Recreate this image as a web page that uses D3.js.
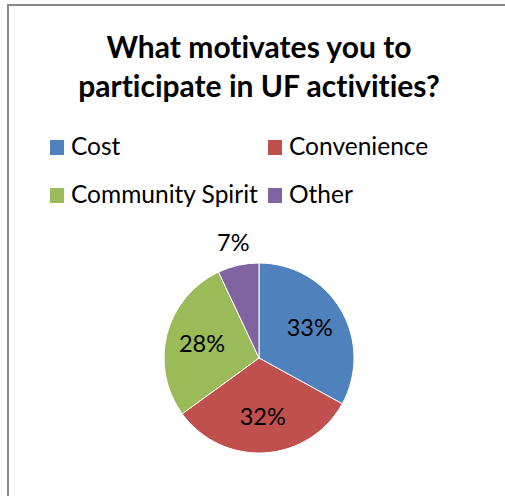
<!DOCTYPE html>
<html><head><meta charset="utf-8">
<script src="https://cdn.jsdelivr.net/npm/d3@7"></script>
<style>body{margin:0;background:#fff}svg{display:block}text{font-variant-ligatures:none}</style>
</head><body>
<svg id="c" width="505" height="496"></svg>
<script>
const categories = ["Cost", "Convenience", "Community Spirit", "Other"];
const values = [33, 32, 28, 7];
const colors = ["#4F81BD", "#C0504D", "#9BBB59", "#8064A2"];
const titleLines = ["What motivates you to", "participate in UF activities?"];

const svg = d3.select("#c");
const font = "Lato, Carlito, Calibri, 'Liberation Sans', sans-serif";

// frame (top and left edges visible)
svg.append("rect").attr("x", 8).attr("y", 5).attr("width", 520).attr("height", 520)
  .attr("fill", "#fff").attr("stroke", "#888").attr("stroke-width", 2);

// title
svg.append("g").selectAll("text").data(titleLines).join("text")
  .attr("x", 259).attr("y", (d, i) => 58 + i * 39)
  .attr("text-anchor", "middle").attr("font-family", font)
  .attr("font-weight", "bold").attr("font-size", 30).attr("fill", "#000")
  .text(d => d);

// legend
const lx = d3.scaleOrdinal().domain([0, 1]).range([50, 268]);
const ly = d3.scaleOrdinal().domain([0, 1]).range([155, 203]);
const leg = svg.append("g").selectAll("g").data(categories).join("g")
  .attr("transform", (d, i) => `translate(${lx(i % 2)},${ly(Math.floor(i / 2))})`);
leg.append("rect").attr("x", 0).attr("y", -15).attr("width", 14).attr("height", 15)
  .attr("fill", (d, i) => colors[i]);
leg.append("text").attr("x", 21).attr("y", 0).attr("font-family", font)
  .attr("font-size", 24.5).attr("fill", "#000").text(d => d);

// pie
const cx = 259, cy = 358, R = 95;
const pie = d3.pie().sort(null).value(d => d);
const arcs = pie(values);
const arc = d3.arc().innerRadius(0).outerRadius(R);
const g = svg.append("g").attr("transform", `translate(${cx},${cy})`);
g.selectAll("path").data(arcs).join("path")
  .attr("d", arc).attr("fill", (d, i) => colors[i])
  .attr("stroke", "#fff").attr("stroke-width", 1);

const inArc = d3.arc().innerRadius(R * 0.62).outerRadius(R * 0.62);
const outArc = d3.arc().innerRadius(R + 23).outerRadius(R + 23);
const total = d3.sum(values);
g.selectAll("text").data(arcs).join("text")
  .attr("transform", d => {
    const c = (d.data / total < 0.1 ? outArc : inArc).centroid(d);
    return `translate(${c[0]},${c[1]})`;
  })
  .attr("text-anchor", "middle").attr("dy", "0.36em")
  .attr("font-family", font).attr("font-size", 23.5).attr("fill", "#000")
  .text(d => Math.round(d.data / total * 100) + "%");
</script>
</body></html>
